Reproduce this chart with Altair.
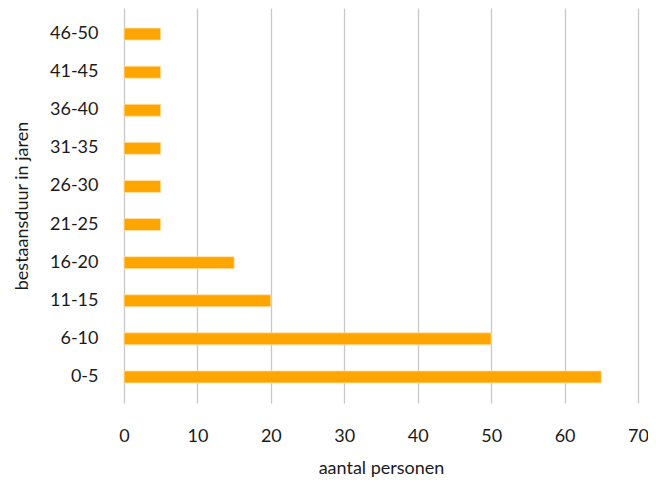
import altair as alt
import pandas as pd

categories = ["0-5", "6-10", "11-15", "16-20", "21-25", "26-30", "31-35", "36-40", "41-45", "46-50"]
values = [65, 50, 20, 15, 5, 5, 5, 5, 5, 5]

df = pd.DataFrame({"cat": categories, "val": values})
order = list(reversed(categories))

FONT = "Lato"
TXT = "#1a1a1a"

chart = alt.Chart(df).mark_bar(color="#FFA500", size=12, stroke="#FFE3AE", strokeWidth=0.8).encode(
    x=alt.X("val:Q", scale=alt.Scale(domain=[0, 70], nice=False),
            axis=alt.Axis(values=list(range(0, 71, 10)), title="aantal personen",
                          grid=True, gridColor="#C8C8C8", gridWidth=1.3,
                          domain=False, ticks=False, labelFontSize=18, labelFont=FONT,
                          labelColor=TXT, labelPadding=24, labelFlush=False,
                          titleFontSize=18, titleFont=FONT,
                          titleFontWeight="normal", titleColor=TXT, titlePadding=14)),
    y=alt.Y("cat:N", sort=order, scale=alt.Scale(paddingInner=0, paddingOuter=0.184),
            axis=alt.Axis(title="bestaansduur in jaren", domain=False, ticks=False,
                          grid=False, labelFontSize=18, labelFont=FONT, labelColor=TXT,
                          labelPadding=26, titleFontSize=18, titleFont=FONT,
                          titleFontWeight="normal", titleColor=TXT, titlePadding=18)),
).properties(
    width=514, height=395,
    autosize=alt.AutoSizeParams(type="none"),
    padding={"left": 116, "top": 0, "right": 10, "bottom": 74},
).configure_view(stroke=None)

chart.save("out.html", embed_options={"renderer": "svg", "actions": False})
